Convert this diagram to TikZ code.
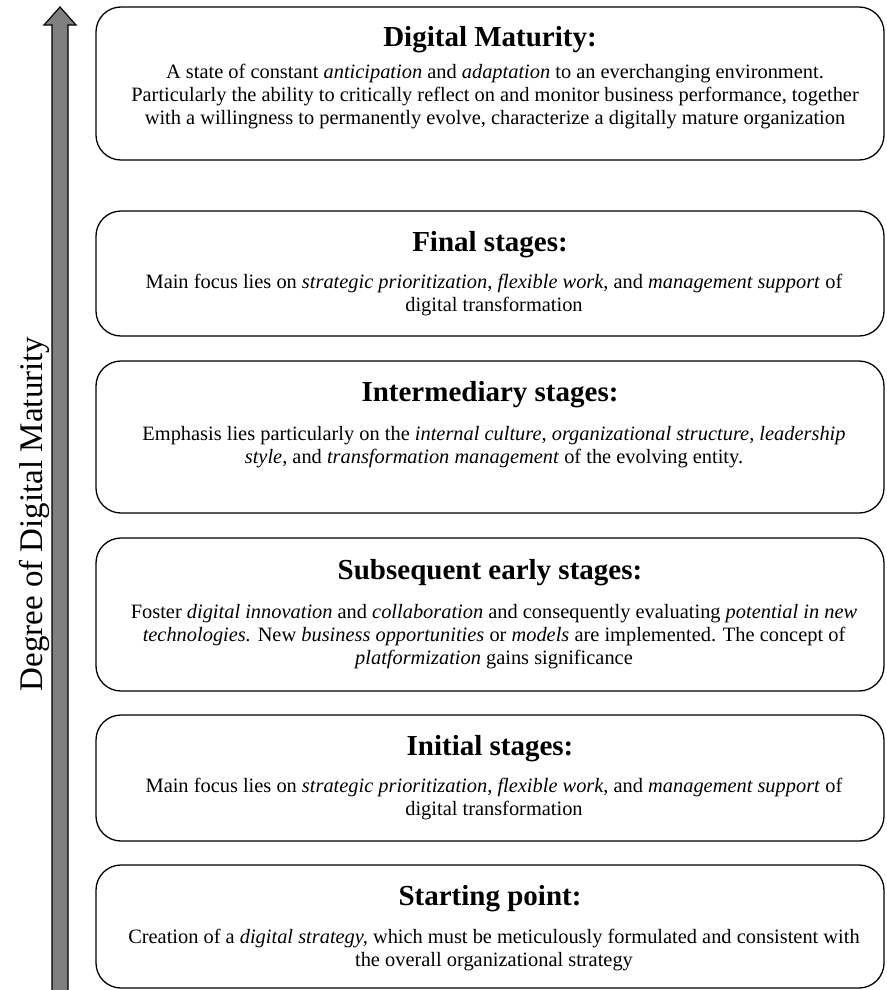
\documentclass[tikz,border=0pt]{standalone}
\usepackage{fontspec}
\setmainfont{Liberation Serif}
\tikzset{
  stagebox/.style={draw, line width=1.3pt, rounded corners=25pt, minimum width=788pt, inner sep=0pt},
  stagetitle/.style={font=\fontsize{29}{34}\selectfont\bfseries, inner sep=0pt},
  stagetext/.style={font=\fontsize{20.4}{23}\selectfont, align=center, inner sep=0pt},
}
\begin{document}
\begin{tikzpicture}[x=1pt,y=-1pt]
    \useasboundingbox (0,0) rectangle (886,990);
    % axis arrow
    \draw[fill=gray, line width=1.2pt] (52,992) -- (52,25) -- (44,25) -- (60,7) -- (76,25) -- (68,25) -- (68,992) -- cycle;
    \node[rotate=90, font=\fontsize{33}{38}\selectfont] (axislabel) at (34,514) {Degree of Digital Maturity};
    % digital maturity
    \node[stagebox, minimum height=153pt] (maturity) at (490,83.5) {};
    \node[stagetitle] (maturitytitle) at (490,40) {Digital Maturity:};
    \node[stagetext] (maturitytext) at (495,97) {A state of constant \textit{anticipation} and \textit{adaptation} to an everchanging environment.\\
      Particularly the ability to critically reflect on and monitor business performance, together\\
      with a willingness to permanently evolve, characterize a digitally mature organization};
    % final stages
    \node[stagebox, minimum height=125pt] (final) at (490,273.5) {};
    \node[stagetitle] (finaltitle) at (490,245) {Final stages:};
    \node[stagetext] (finaltext) at (494,295.5) {Main focus lies on \textit{strategic prioritization}, \textit{flexible work}, and \textit{management support} of\\
      digital transformation};
    % intermediary stages
    \node[stagebox, minimum height=152pt] (intermediary) at (490,437) {};
    \node[stagetitle] (intermediarytitle) at (490,395) {Intermediary stages:};
    \node[stagetext] (intermediarytext) at (494,447) {Emphasis lies particularly on the \textit{internal culture}, \textit{organizational structure}, \textit{leadership}\\
      \textit{style}, and \textit{transformation management} of the evolving entity.};
    % subsequent early stages
    \node[stagebox, minimum height=153pt] (subsequent) at (490,614.5) {};
    \node[stagetitle] (subsequenttitle) at (490,573) {Subsequent early stages:};
    \node[stagetext] (subsequenttext) at (494,637) {Foster \textit{digital innovation} and \textit{collaboration} and consequently evaluating \textit{potential in new}\\
      \textit{technologies.} New \textit{business opportunities} or \textit{models} are implemented. The concept of\\
      \textit{platformization} gains significance};
    % initial stages
    \node[stagebox, minimum height=126pt] (initial) at (490,778) {};
    \node[stagetitle] (initialtitle) at (490,749) {Initial stages:};
    \node[stagetext] (initialtext) at (494,799.5) {Main focus lies on \textit{strategic prioritization}, \textit{flexible work}, and \textit{management support} of\\
      digital transformation};
    % starting point
    \node[stagebox, minimum height=123pt] (starting) at (490,926.5) {};
    \node[stagetitle] (startingtitle) at (490,899) {Starting point:};
    \node[stagetext] (startingtext) at (494,950) {Creation of a \textit{digital strategy,} which must be meticulously formulated and consistent with\\
      the overall organizational strategy};
\end{tikzpicture}
\end{document}
